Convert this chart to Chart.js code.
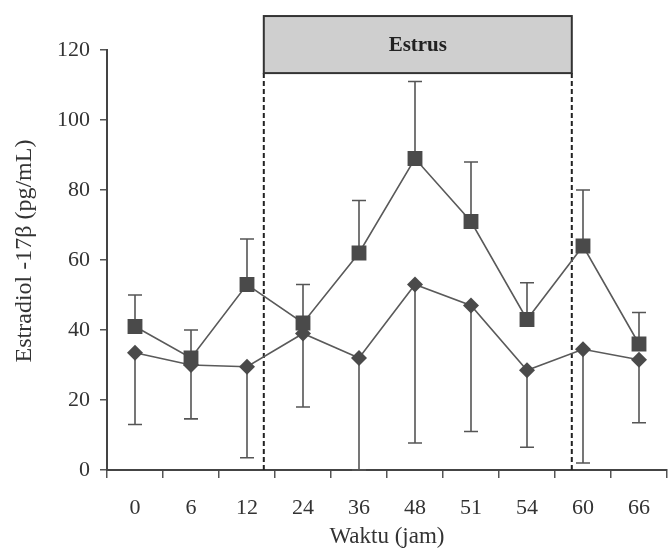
<!DOCTYPE html>
<html>
<head>
<meta charset="utf-8">
<script src="https://cdn.jsdelivr.net/npm/chart.js@4/dist/chart.umd.min.js"></script>
<style>
html,body{margin:0;padding:0;background:#fff;}
#wrap{width:668px;height:548px;position:relative;}
</style>
</head>
<body>
<div id="wrap"><canvas id="c" width="668" height="548"></canvas></div>
<script>
const categories = ['0','6','12','24','36','48','51','54','60','66'];
const squareMean = [41, 32, 53, 42, 62, 89, 71, 43, 64, 36];
const squareErr  = [9, 8, 13, 11, 15, 22, 17, 10.5, 16, 9];
const diamondMean = [33.5, 30, 29.5, 39, 32, 53, 47, 28.5, 34.5, 31.5];
const diamondErr  = [20.5, 15.4, 26, 21, 32, 45.3, 36, 22, 32.5, 18];
const yTicks = [0, 20, 40, 60, 80, 100, 120];
const xTitle = 'Waktu (jam)';
const yTitle = 'Estradiol -17β (pg/mL)';
const estrusLabel = 'Estrus';
const estrusFrom = 2.3, estrusTo = 7.8;      // category index positions
const estrusLow = 113.4, estrusHigh = 129.7; // y values of the label box

const FONT = '"Liberation Serif", "DejaVu Serif", serif';

const overlay = {
  id: 'overlay',
  beforeDatasetsDraw(chart) {
    const ctx = chart.ctx, x = chart.scales.x, y = chart.scales.y;
    ctx.save();
    // error bars
    ctx.strokeStyle = '#555';
    ctx.lineWidth = 1.6;
    const cap = 7;
    const drawErr = (i, from, to) => {
      const px = x.getPixelForValue(i);
      const p1 = y.getPixelForValue(from), p2 = y.getPixelForValue(to);
      ctx.beginPath();
      ctx.moveTo(px, p1); ctx.lineTo(px, p2);
      ctx.moveTo(px - cap, p2); ctx.lineTo(px + cap, p2);
      ctx.stroke();
    };
    squareMean.forEach((m, i) => drawErr(i, m, m + squareErr[i]));
    diamondMean.forEach((m, i) => drawErr(i, m, Math.max(0, m - diamondErr[i])));
    // dashed lines
    const xl = x.getPixelForValue(estrusFrom), xr = x.getPixelForValue(estrusTo);
    const yb = y.getPixelForValue(estrusLow), yt = y.getPixelForValue(estrusHigh);
    const y0 = y.getPixelForValue(0);
    ctx.strokeStyle = '#222';
    ctx.lineWidth = 2;
    ctx.setLineDash([5, 3]);
    ctx.beginPath();
    ctx.moveTo(xl, yb); ctx.lineTo(xl, y0);
    ctx.moveTo(xr, yb); ctx.lineTo(xr, y0);
    ctx.stroke();
    ctx.setLineDash([]);
    // box
    ctx.fillStyle = '#cfcfcf';
    ctx.fillRect(xl, yt, xr - xl, yb - yt);
    ctx.strokeStyle = '#333';
    ctx.lineWidth = 2;
    ctx.strokeRect(xl, yt, xr - xl, yb - yt);
    ctx.fillStyle = '#222';
    ctx.font = 'bold 21px ' + FONT;
    ctx.textAlign = 'center';
    ctx.textBaseline = 'middle';
    ctx.fillText(estrusLabel, (xl + xr) / 2, (yt + yb) / 2 + 1);
    ctx.restore();
  },
  afterDraw(chart) {
    const ctx = chart.ctx, a = chart.chartArea;
    ctx.save();
    ctx.fillStyle = '#333';
    ctx.textAlign = 'center';
    ctx.textBaseline = 'middle';
    ctx.font = '23px ' + FONT;
    ctx.fillText(xTitle, (a.left + a.right) / 2, 537);
    ctx.translate(25, (a.top + a.bottom) / 2 - 9);
    ctx.rotate(-Math.PI / 2);
    ctx.font = '24px ' + FONT;
    ctx.fillText(yTitle, 0, 0);
    ctx.restore();
  }
};

new Chart(document.getElementById('c'), {
  type: 'line',
  data: {
    labels: categories,
    datasets: [
      {
        data: squareMean,
        borderColor: '#5a5a5a', borderWidth: 1.6,
        pointStyle: 'rect', pointRadius: 10.5,
        pointBackgroundColor: '#4a4a4a', pointBorderColor: '#4a4a4a', pointBorderWidth: 0,
        tension: 0
      },
      {
        data: diamondMean,
        borderColor: '#5a5a5a', borderWidth: 1.6,
        pointStyle: 'rectRot', pointRadius: 8,
        pointBackgroundColor: '#4a4a4a', pointBorderColor: '#4a4a4a', pointBorderWidth: 0,
        tension: 0
      }
    ]
  },
  options: {
    responsive: false,
    animation: false,
    layout: { autoPadding: false, padding: { top: 50, right: 1, left: 0, bottom: 0 } },
    plugins: { legend: { display: false }, tooltip: { enabled: false } },
    scales: {
      x: {
        type: 'category',
        offset: true,
        grid: { display: true, drawOnChartArea: false, offset: true, tickLength: 8, color: '#555', lineWidth: 1.5 },
        border: { display: true, color: '#444', width: 2 },
        ticks: { color: '#333', font: { family: FONT, size: 22 }, padding: 17, maxRotation: 0 },
        title: { display: false },
        afterFit(s) { s.height = 78; }
      },
      y: {
        min: 0, max: 120,
        afterBuildTicks(s) { s.ticks = yTicks.map(v => ({ value: v })); },
        grid: { display: true, drawOnChartArea: false, tickLength: 7, color: '#555', lineWidth: 1.5 },
        border: { display: true, color: '#444', width: 2 },
        ticks: { color: '#333', font: { family: FONT, size: 22 }, padding: 10 },
        title: { display: false },
        afterFit(s) { s.width = 107; }
      }
    }
  },
  plugins: [overlay]
});
</script>
</body>
</html>
